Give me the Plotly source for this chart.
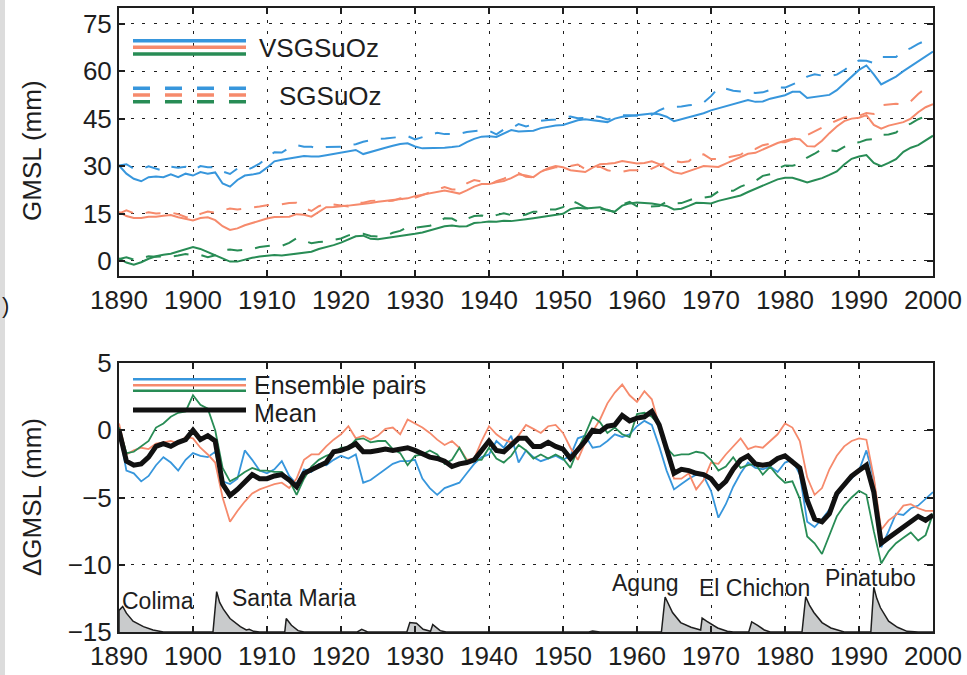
import plotly.graph_objects as go

# ---------------- data ----------------
years = list(range(1890, 2001))
x_ticks = [1890, 1900, 1910, 1920, 1930, 1940, 1950, 1960, 1970, 1980, 1990, 2000]
top_y_ticks = [0, 15, 30, 45, 60, 75]
bot_y_ticks = [-15, -10, -5, 0, 5]

# VSGSuOz (solid) GMSL, mm
vs_blue = [30.2, 27.6, 26.0, 25.2, 26.5, 26.7, 26.5, 27.4, 26.5, 27.6,
           27.0, 28.1, 27.6, 28.0, 24.5, 23.5, 25.6, 27.0, 27.3, 27.8,
           29.5, 31.5, 32.0, 32.4, 32.6, 33.2, 33.0, 33.0, 33.4, 33.8,
           34.2, 34.6, 35.1, 33.8, 34.5, 35.3, 35.8, 36.4, 37.0, 37.2,
           36.2, 35.6, 35.6, 35.7, 35.8, 36.0, 36.3, 37.6, 38.6, 39.3,
           39.4, 39.2, 40.3, 41.4, 40.9, 41.0, 41.2, 42.0, 42.5, 42.8,
           43.0, 43.8, 44.5, 44.8, 44.5, 44.3, 43.9, 45.0, 45.6, 45.8,
           46.1, 46.4, 46.6, 46.4, 45.6, 44.2, 44.8, 45.6, 46.1, 46.7,
           47.6, 48.3, 49.0, 49.6, 50.4, 50.9, 50.3, 50.4, 51.3, 51.8,
           52.4, 53.5, 53.5, 51.5, 51.8, 52.0, 52.5, 54.0, 56.2, 58.5,
           60.4, 61.8, 59.0, 55.8, 57.0, 58.3, 60.0, 61.5, 63.0, 64.5,
           66.2]
vs_orange = [15.5, 14.2, 13.6, 13.6, 14.0, 14.0, 14.3, 14.5, 13.8, 13.4,
             12.8, 13.6, 13.8, 12.9, 11.0, 9.8, 10.3, 11.3, 12.0, 12.8,
             13.4, 13.9, 14.0, 14.0, 14.8, 14.6, 14.0, 15.5, 17.0, 17.1,
             17.2, 17.5, 17.8, 18.0, 18.3, 18.7, 19.0, 19.2, 19.5, 19.8,
             20.5, 21.0, 21.3, 21.8, 22.3, 21.8, 21.3, 22.3, 23.5, 24.3,
             24.3, 24.9, 25.3, 26.2, 27.4, 27.0, 26.5, 28.2, 29.3, 30.0,
             29.6, 28.7, 28.3, 28.1, 29.5, 30.6, 30.7, 31.0, 31.6, 31.3,
             30.8, 31.0, 31.5, 30.6, 29.2, 28.0, 27.6, 28.3, 29.2, 30.0,
             29.8, 29.7, 30.8, 31.8, 33.0, 33.9, 34.2, 35.3, 36.3, 37.3,
             38.0, 38.6, 38.5, 36.3, 36.2, 38.0, 40.4, 42.5, 44.2, 45.0,
             45.3, 46.1, 43.0, 41.8, 42.8, 43.4, 43.9, 45.0, 47.0, 48.6,
             49.6]
vs_green = [0.8, -0.5, -1.2, -0.4, 0.7, 1.5, 2.0, 2.3, 3.0, 3.6,
            4.4, 3.8, 2.8, 1.8, 0.6, -0.2, -0.2, 0.5, 1.0, 1.4,
            1.7, 1.9, 1.7, 2.0, 2.4, 2.7, 2.9, 3.8, 4.3, 5.0,
            5.8, 6.8, 7.8, 8.0, 7.0, 6.9, 7.2, 7.5, 7.8, 8.2,
            8.6, 9.0, 9.6, 10.2, 11.0, 11.2, 10.9, 11.0, 12.0, 12.2,
            12.5, 12.4, 12.7, 12.6, 13.0, 13.2, 13.5, 13.8, 14.2, 14.5,
            14.9, 16.4, 16.8, 16.6, 16.9, 17.0, 16.0, 15.6, 17.5, 18.2,
            18.5, 18.4, 18.2, 17.8, 17.4, 16.3, 16.5, 17.4, 18.4, 18.3,
            18.2, 19.0, 19.6, 20.2, 20.7, 21.8, 22.8, 23.6, 24.7, 25.8,
            26.3, 26.3, 25.6, 24.8, 25.5, 26.2, 27.2, 28.3, 30.5, 32.3,
            33.0, 33.5, 31.0, 30.0, 31.0, 32.2, 34.5, 35.8, 36.6, 38.0,
            39.6]

# SGSuOz (dashed) GMSL, mm
sg_blue = [30.2, 30.6, 29.2, 29.0, 29.9, 29.3, 28.5, 29.8, 29.5, 29.8,
           28.7, 30.0, 29.6, 29.6, 28.3, 27.5, 29.2, 28.5, 29.5, 30.8,
           32.7, 34.4, 34.3, 35.8, 36.6, 36.1, 36.1, 35.5, 36.0, 36.0,
           36.1, 36.7, 36.9, 37.7, 38.2, 38.6, 38.7, 38.9, 39.3, 39.5,
           38.4, 39.2, 39.9, 40.5, 40.1, 40.1, 40.2, 40.8, 41.1, 41.3,
           41.2, 40.0, 41.6, 41.8, 43.3, 42.5, 43.2, 44.3, 44.6, 44.7,
           45.2, 45.7, 45.1, 45.2, 45.8, 45.5, 44.7, 45.3, 46.1, 46.1,
           45.8, 45.7, 46.2, 47.6, 48.6, 48.6, 48.8, 49.2, 49.4, 50.1,
           52.1, 54.8, 54.5, 53.8, 53.6, 53.3, 53.1, 53.3, 54.0, 54.9,
           54.8, 55.7, 56.8, 58.3, 59.0, 58.6, 58.4, 58.9, 60.3, 62.1,
           63.4, 63.3, 62.6, 64.5, 64.5, 64.5, 66.3, 67.3, 68.6, 69.6,
           70.8]
sg_orange = [15.0, 16.0, 15.1, 14.9, 15.4, 15.0, 15.2, 15.3, 14.8, 13.9,
             13.4, 14.9, 15.6, 15.3, 16.0, 16.6, 16.3, 16.6, 16.7, 17.2,
             17.6, 17.9, 17.9, 18.3, 18.4, 16.8, 15.8, 17.3, 18.2, 17.8,
             17.5, 17.2, 18.4, 18.4, 19.0, 19.1, 18.9, 19.0, 19.8, 19.0,
             20.0, 20.8, 21.5, 22.5, 23.4, 22.6, 22.6, 24.5, 25.6, 25.1,
             24.0, 25.2, 26.0, 27.1, 27.8, 26.6, 26.4, 28.4, 29.0, 29.6,
             29.8, 30.0, 30.5, 29.0, 29.6, 29.8, 28.7, 28.2, 28.2, 28.7,
             28.7, 28.1, 29.2, 30.3, 31.0, 31.6, 31.2, 31.5, 33.6, 33.7,
             32.2, 32.2, 32.6, 33.0, 33.6, 35.3, 35.4, 36.6, 37.1, 37.6,
             37.5, 38.4, 39.3, 39.8, 41.0, 42.3, 43.3, 44.4, 45.4, 45.8,
             45.9, 46.8, 46.5, 49.2, 49.5, 49.7, 49.5, 50.5, 52.8, 54.6,
             55.6]
sg_green = [0.6, 1.2, 0.4, 0.8, 1.5, 1.3, 1.5, 1.3, 1.7, 2.2,
            1.8, 1.9, 1.2, 1.8, 3.4, 3.6, 3.3, 3.6, 3.8, 4.4,
            4.7, 5.0, 4.8, 5.7, 7.2, 6.3, 5.6, 6.0, 6.2, 6.7,
            7.1, 8.1, 8.5, 8.6, 7.9, 7.7, 8.0, 8.9, 9.5, 10.8,
            10.5, 10.8, 11.1, 12.0, 13.5, 13.4, 12.2, 13.3, 14.2, 14.4,
            13.8, 14.5, 15.1, 14.5, 14.1, 14.7, 15.6, 15.6, 16.3, 16.3,
            17.0, 19.2, 18.2, 16.9, 15.9, 16.4, 16.2, 15.4, 17.8, 18.7,
            17.3, 17.1, 17.2, 17.4, 18.7, 18.2, 18.3, 19.2, 20.0, 20.0,
            20.4, 22.0, 22.3, 22.2, 23.5, 24.4, 25.3, 26.9, 27.4, 29.2,
            30.2, 30.1, 30.7, 32.7, 33.9, 35.4, 35.0, 34.7, 36.1, 37.3,
            37.5, 38.3, 38.5, 39.9, 40.0, 40.6, 42.5, 43.4, 44.8, 45.8,
            45.8]

# Delta GMSL (ensemble pairs and mean), mm
d_blue = [0.0, -3.0, -3.2, -3.8, -3.4, -2.6, -2.0, -2.4, -3.0, -2.2,
          -1.7, -1.9, -2.0, -1.6, -3.8, -4.0, -3.6, -1.5, -2.2, -3.0,
          -3.2, -2.9, -2.3, -3.4, -4.0, -2.9, -3.1, -2.5, -2.6, -2.2,
          -1.9, -2.1, -1.8, -3.9, -3.7, -3.3, -2.9, -2.5, -2.3, -2.3,
          -2.2, -3.6, -4.3, -4.8, -4.3, -4.1, -3.9, -3.2, -2.5, -2.0,
          -1.8, -0.8, -1.3, -0.4, -2.4, -1.5, -2.0, -2.3, -2.1, -1.9,
          -2.2, -1.9, -0.6, -0.4, -1.3, -1.2, -0.8, -0.3, -0.5, -0.3,
          0.3, 0.7, 0.4, -1.2, -3.0, -4.4, -4.0, -3.6, -3.3, -3.4,
          -4.5, -6.5, -5.5, -4.2, -3.2, -2.4, -2.8, -2.9, -2.7, -3.1,
          -2.4, -2.2, -3.3, -6.8, -7.2, -6.6, -5.9, -4.9, -4.1, -3.6,
          -3.0, -1.5, -3.6, -8.7, -7.5, -6.2, -6.3, -5.8, -5.6, -5.1,
          -4.6]
d_orange = [0.5, -1.8, -1.5, -1.3, -1.4, -1.0, -0.9, -0.8, -1.0, -0.5,
            -0.6, -1.3, -1.8, -2.4, -5.0, -6.8, -6.0, -5.3, -4.7, -4.4,
            -4.2, -4.0, -3.9, -4.3, -3.6, -2.2, -1.8, -1.8, -1.2, -0.7,
            -0.3, 0.3, -0.6, -0.4, -0.7, -0.4, 0.1, 0.2, -0.3, 0.8,
            0.5, 0.2, -0.2, -0.7, -1.1, -0.8, -1.3, -2.2, -2.1, -0.8,
            0.3, -0.3, -0.7, -0.9, -0.4, 0.4, 0.1, -0.2, 0.3, 0.4,
            -0.2, -1.3, -2.2, -0.9, -0.1, 0.8, 2.0, 2.8, 3.4, 2.6,
            2.1, 2.9, 2.3, 0.3, -1.8, -3.6, -3.6, -3.2, -4.4, -3.7,
            -2.4, -2.5, -1.8, -1.2, -0.6, -1.4, -1.2, -1.3, -0.8, -0.3,
            0.5, 0.2, -0.8, -3.5, -4.8, -4.3, -2.9, -1.9, -1.2, -0.8,
            -0.6, -0.7, -3.5, -7.4, -6.7, -6.3, -5.6, -5.5, -5.8, -6.0,
            -6.0]
d_green = [0.2, -1.7, -1.6, -1.2, -0.8, 0.2, 0.5, 1.0, 1.3, 1.4,
           2.6, 1.9, 1.6, 0.0, -2.8, -3.8, -3.5, -3.1, -2.8, -3.0,
           -3.0, -3.1, -3.1, -3.7, -4.8, -3.6, -2.7, -2.2, -1.9, -1.7,
           -1.3, -1.3, -0.7, -0.6, -0.9, -0.8, -0.8, -1.4, -1.7, -2.6,
           -1.9, -1.8, -1.5, -1.8, -2.5, -2.2, -1.3, -2.3, -2.2, -2.2,
           -1.3, -2.1, -2.4, -1.9, -1.1, -1.5, -2.1, -1.8, -2.1, -1.8,
           -2.1, -2.8, -1.4, -0.3, 1.0, 0.6, -0.2, 0.2, -0.3, -0.5,
           1.2, 1.3, 1.0, 0.4, -1.3, -1.9, -1.8, -1.8, -1.6, -1.7,
           -2.2, -3.0, -2.7, -2.0, -2.8, -2.6, -2.5, -3.3, -2.7, -3.4,
           -3.9, -3.8, -5.1, -7.9, -8.4, -9.2, -7.8, -6.4, -5.6, -5.0,
           -4.5, -4.8, -7.5, -9.9, -9.0, -8.4, -8.0, -7.6, -8.2, -7.8,
           -6.2]
d_mean = [0.0, -2.3, -2.6, -2.5, -2.0, -1.2, -1.0, -1.2, -0.9, -0.7,
          0.0, -0.7, -0.4, -0.8, -4.0, -4.85, -4.4, -3.8, -3.3, -3.6,
          -3.6, -3.4, -3.3, -3.7, -4.2, -3.2, -2.9, -2.6, -2.4, -1.6,
          -1.5, -1.3, -1.0, -1.6, -1.6, -1.5, -1.4, -1.5, -1.4, -1.3,
          -1.5, -1.8, -2.0, -2.1, -2.3, -2.7, -2.5, -2.4, -2.2, -1.5,
          -0.8, -1.5, -1.6, -1.1, -0.6, -0.6, -1.2, -1.2, -0.9, -1.2,
          -1.4, -2.1, -1.5, -0.8, 0.0, -0.1, 0.3, 0.4, 1.1, 0.7,
          0.9, 1.0, 1.4, 0.4, -1.4, -3.2, -2.9, -3.0, -3.2, -3.3,
          -3.6, -4.3, -3.8, -2.9, -2.2, -1.9, -2.5, -2.6, -2.5, -2.1,
          -1.9, -2.3, -2.8, -5.2, -6.6, -6.8, -6.2, -4.7, -4.0, -3.4,
          -3.0, -2.6, -4.6, -8.4, -8.0, -7.6, -7.2, -6.9, -6.4, -6.7,
          -6.3]

# volcanic forcing outline (drawn on the lower axis scale)
volc_x = [1890, 1890, 1890.5, 1891.0, 1891.9, 1893.3, 1894.6, 1896,
          1902.7, 1903.2, 1903.6, 1904.1, 1905.0, 1906.4, 1907.2, 1907.6, 1908.2, 1909,
          1912.4, 1912.6, 1913.3, 1914.2, 1915,
          1922.2, 1922.8, 1923.6,
          1928.9, 1929.3, 1930.2, 1931.1, 1932.1, 1932.4, 1933.4, 1934.2,
          1953.5, 1954.0, 1955.0,
          1963.3, 1963.8, 1964.3, 1964.8, 1965.9, 1967.3, 1968.6,
          1968.8, 1969.4, 1970.0, 1970.9, 1972.2, 1973,
          1975.1, 1975.5, 1976.3, 1977.2, 1978,
          1982.3, 1982.8, 1983.3, 1983.9, 1985.0, 1986.2, 1988,
          1991.6, 1992.0, 1992.4, 1992.9, 1994.0, 1995.2, 1996.5, 1998, 2000]
volc_y = [-15, -13.4, -13.1, -13.6, -14.2, -14.6, -14.85, -15,
          -15, -12.0, -12.8, -13.3, -14.0, -14.6, -14.85, -14.8, -14.95, -15,
          -15, -14.0, -14.5, -14.9, -15,
          -15, -14.8, -15,
          -15, -14.3, -14.35, -14.8, -14.95, -14.45, -14.9, -15,
          -15, -14.93, -15,
          -15, -12.4, -13.0, -13.55, -14.3, -14.65, -14.85,
          -13.97, -14.2, -14.4, -14.7, -14.95, -15,
          -15, -14.24, -14.5, -14.85, -15,
          -15, -12.38, -13.0, -13.55, -14.3, -14.7, -15,
          -15, -11.67, -12.5, -13.2, -14.2, -14.65, -14.95, -15, -15]

volc_names = ["Colima", "Santa Maria", "Agung", "El Chichon", "Pinatubo"]
volc_label_x = [1895.3, 1913.7, 1961.2, 1975.9, 1991.5]
volc_label_y = [-12.67, -12.45, -11.35, -11.7, -10.98]

# ---------------- styling ----------------
BLUE = "rgb(55,150,220)"
ORANGE = "rgb(246,138,108)"
GREEN = "rgb(40,140,85)"
INK = "#1e1e1e"
FONT = "Liberation Sans, Arial, Helvetica, sans-serif"

W, H = 967, 675
L, R, T, B = 119, 34, 8, 43
PW, PH = W - L - R, H - T - B


def px(xp):
    return (xp - L) / PW


def py(yp):
    return (H - B - yp) / PH


fig = go.Figure()

# top panel
for ys, col in [(sg_blue, BLUE), (sg_orange, ORANGE), (sg_green, GREEN)]:
    fig.add_trace(go.Scatter(x=years, y=ys, mode="lines", xaxis="x", yaxis="y",
                             line=dict(color=col, width=2, dash="15px,13px")))
for ys, col in [(vs_blue, BLUE), (vs_orange, ORANGE), (vs_green, GREEN)]:
    fig.add_trace(go.Scatter(x=years, y=ys, mode="lines", xaxis="x", yaxis="y",
                             line=dict(color=col, width=2)))

# bottom panel
fig.add_trace(go.Scatter(x=volc_x, y=volc_y, mode="lines", xaxis="x2", yaxis="y2",
                         fill="toself", fillcolor="rgb(201,203,204)",
                         line=dict(color=INK, width=1.5)))
for ys, col in [(d_blue, BLUE), (d_orange, ORANGE), (d_green, GREEN)]:
    fig.add_trace(go.Scatter(x=years, y=ys, mode="lines", xaxis="x2", yaxis="y2",
                             line=dict(color=col, width=1.8)))
fig.add_trace(go.Scatter(x=years, y=d_mean, mode="lines", xaxis="x2", yaxis="y2",
                         line=dict(color="#111111", width=5)))

axis_common = dict(
    ticks="inside", ticklen=6, tickwidth=2, tickcolor=INK,
    showline=True, linewidth=2, linecolor=INK, mirror="ticks",
    showgrid=True, gridcolor=INK, gridwidth=1, griddash="3px,8.5px",
    zeroline=False, automargin=False,
    tickfont=dict(family=FONT, size=26, color=INK),
)

top_dom = [py(276), 1.0]
bot_dom = [0.0, py(363)]

fig.update_layout(
    width=W, height=H,
    margin=dict(l=L, r=R, t=T, b=B),
    paper_bgcolor="white", plot_bgcolor="white",
    showlegend=False, hovermode=False,
    xaxis=dict(domain=[0, 1], anchor="y", range=[1890, 2000], tickvals=x_ticks,
               **axis_common),
    yaxis=dict(domain=top_dom, anchor="x", range=[-4.75, 79.97], tickvals=top_y_ticks,
               **axis_common),
    xaxis2=dict(domain=[0, 1], anchor="y2", range=[1890, 2000], tickvals=x_ticks,
                **axis_common),
    yaxis2=dict(domain=bot_dom, anchor="x2", range=[-15, 5], tickvals=bot_y_ticks,
                **axis_common),
)

shapes = []
annotations = []

# left grey strip of the page
shapes.append(dict(type="rect", xref="paper", yref="paper",
                   x0=px(0), x1=px(5), y0=py(H), y1=py(0),
                   fillcolor="#dcdcdc", line=dict(width=0), layer="below"))

# top legend
for yp, col in [(40.7, BLUE), (47.3, ORANGE), (54.0, GREEN)]:
    shapes.append(dict(type="line", xref="paper", yref="paper",
                       x0=px(133), x1=px(246), y0=py(yp), y1=py(yp),
                       line=dict(color=col, width=3.5)))
for yp, col in [(88.3, BLUE), (95.0, ORANGE), (101.7, GREEN)]:
    shapes.append(dict(type="line", xref="paper", yref="paper",
                       x0=px(133), x1=px(246), y0=py(yp), y1=py(yp),
                       line=dict(color=col, width=3.5, dash="17px,15px")))
annotations.append(dict(text="VSGSuOz", xref="paper", yref="paper", x=px(257), y=py(48),
                        xanchor="left", yanchor="middle", showarrow=False,
                        font=dict(family=FONT, size=26, color=INK)))
annotations.append(dict(text="SGSuOz", xref="paper", yref="paper", x=px(277), y=py(96),
                        xanchor="left", yanchor="middle", showarrow=False,
                        font=dict(family=FONT, size=26, color=INK)))

# bottom legend
for yp, col in [(379.3, BLUE), (385.3, ORANGE), (390.7, GREEN)]:
    shapes.append(dict(type="line", xref="paper", yref="paper",
                       x0=px(133), x1=px(246), y0=py(yp), y1=py(yp),
                       line=dict(color=col, width=2.5)))
shapes.append(dict(type="line", xref="paper", yref="paper",
                   x0=px(133), x1=px(246), y0=py(410), y1=py(410),
                   line=dict(color="#111111", width=5)))
annotations.append(dict(text="Ensemble pairs", xref="paper", yref="paper", x=px(252), y=py(385),
                        xanchor="left", yanchor="middle", showarrow=False,
                        font=dict(family=FONT, size=25, color=INK)))
annotations.append(dict(text="Mean", xref="paper", yref="paper", x=px(252), y=py(413),
                        xanchor="left", yanchor="middle", showarrow=False,
                        font=dict(family=FONT, size=25, color=INK)))

# y axis titles
annotations.append(dict(text="GMSL (mm)", xref="paper", yref="paper", x=px(32), y=py(151),
                        textangle=-90, xanchor="center", yanchor="middle", showarrow=False,
                        font=dict(family=FONT, size=26, color=INK)))
annotations.append(dict(text="ΔGMSL (mm)", xref="paper", yref="paper", x=px(32), y=py(497),
                        textangle=-90, xanchor="center", yanchor="middle", showarrow=False,
                        font=dict(family=FONT, size=26, color=INK)))

# panel letter fragment at the left edge
annotations.append(dict(text=")", xref="paper", yref="paper", x=px(0), y=py(305),
                        xanchor="left", yanchor="middle", showarrow=False,
                        font=dict(family=FONT, size=22, color=INK)))

# volcano names
for name, vx, vy in zip(volc_names, volc_label_x, volc_label_y):
    annotations.append(dict(text=name, xref="x2", yref="y2", x=vx, y=vy,
                            xanchor="center", yanchor="middle", showarrow=False,
                            font=dict(family=FONT, size=23, color=INK)))

fig.update_layout(shapes=shapes, annotations=annotations)

fig.write_html("out.html")
